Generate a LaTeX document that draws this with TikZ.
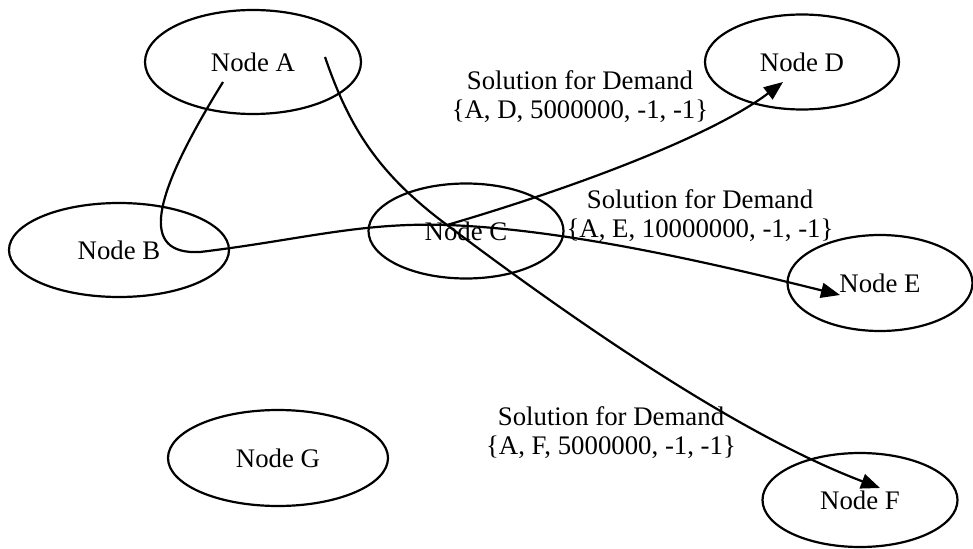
\documentclass[tikz,border=0pt]{standalone}
\usepackage{fontspec}
\setmainfont{Liberation Serif}
\usetikzlibrary{arrows.meta,shapes.geometric}

\begin{document}
\begin{tikzpicture}[x=1pt,y=-1pt,>={Triangle[length=19pt,width=15pt]},line width=2.2pt]
  \tikzstyle{station}=[ellipse,draw,line width=2.2pt,inner sep=0pt,font=\fontsize{26.8}{29}\selectfont]
  \tikzstyle{demand}=[align=center,inner sep=0pt,font=\fontsize{26.8}{29}\selectfont]
  \useasboundingbox (0,0) rectangle (973,548);

    \node [station,minimum width=216,minimum height=104] (a) at (253,62)  {Node A};
    \node [station,minimum width=220,minimum height=94]  (b) at (119,250) {Node B};
    \node [station,minimum width=195,minimum height=95]  (c) at (466,231) {Node C};
    \node [station,minimum width=194,minimum height=95]  (d) at (802,62)  {Node D};
    \node [station,minimum width=185,minimum height=96]  (e) at (880,283) {Node E};
    \node [station,minimum width=195,minimum height=94]  (f) at (860,500) {Node F};
    \node [station,minimum width=220,minimum height=96]  (g) at (278,458) {Node G};

    \node [demand] (labd) at (580,97)  {Solution for Demand\\\{A, D, 5000000, -1, -1\}};
    \node [demand] (labe) at (700,216) {Solution for Demand\\\{A, E, 10000000, -1, -1\}};
    \node [demand] (labf) at (611,433) {Solution for Demand\\\{A, F, 5000000, -1, -1\}};

    \coordinate (ab) at (223,82);
    \coordinate (af) at (325,57);
    \coordinate (hub) at (447,225);
    \coordinate (dend) at (783,82);
    \coordinate (eend) at (840,295);
    \coordinate (fend) at (880,488);

    \draw [->] (ab) .. controls (150,200) and (140,255) .. (200,252)
        .. controls (300,240) and (360,222) .. (hub)
        .. controls (560,229) and (700,260) .. (eend); %A-B-C-E
    \draw [->] (hub) .. controls (600,180) and (720,130) .. (dend);
    \draw [->] (af) .. controls (350,130) and (380,175) .. (hub)
        .. controls (580,325) and (740,435) .. (fend);
\end{tikzpicture}
\end{document}
